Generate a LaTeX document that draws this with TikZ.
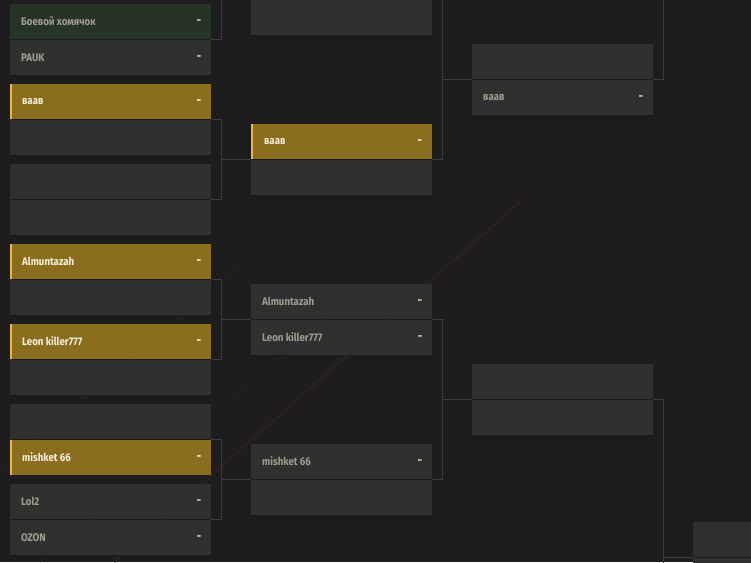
\documentclass[tikz,border=0pt]{standalone}
\usepackage{fontspec}
\setmainfont{Fira Sans}[FakeStretch=0.88]
\usetikzlibrary{calc}
\definecolor{bgc}{HTML}{1D1D1F}
\definecolor{boxc}{HTML}{30302E}
\definecolor{goldc}{HTML}{8B6D1F}
\definecolor{barc}{HTML}{F2B73A}
\definecolor{greenc}{HTML}{283327}
\definecolor{txtgray}{HTML}{9E9D90}
\definecolor{txtlight}{HTML}{F5EEDA}
\definecolor{scrgray}{HTML}{D0CFC2}
\definecolor{linec}{HTML}{3C3C3C}
\definecolor{streak}{HTML}{3A2020}
\tikzset{
  slot/.style={anchor=north west, minimum width=201pt, minimum height=35pt, inner sep=0pt, outer sep=0pt, fill=boxc},
  slotn/.style={slot, minimum width=181pt},
  goldslot/.style={fill=goldc},
  greenslot/.style={fill=greenc},
  lbl/.style={anchor=west, inner sep=0pt, text=txtgray, font=\bfseries\fontsize{11}{12}\selectfont},
  lbllight/.style={lbl, text=txtlight},
  scr/.style={anchor=center, inner sep=0pt, text=scrgray, font=\bfseries\fontsize{13}{14}\selectfont},
  scrlight/.style={scr, text=txtlight},
  conn/.style={draw=linec, line width=1pt},
  bar/.style={fill=barc}
}
\begin{document}
\begin{tikzpicture}[x=1pt,y=-1pt]
\fill[bgc] (0,0) rectangle (751,562);
\useasboundingbox (0,0) rectangle (751,562);
\clip (0,0) rectangle (751,562);
% faint diagonal streaks
\draw[streak, line width=2.5pt, opacity=0.5] (114,562) -- (522,200);
\draw[streak, line width=2pt, opacity=0.3] (0,470) -- (260,250);
\draw[streak, line width=2pt, opacity=0.25] (40,562) -- (360,290);
% ---------- column 1 ----------
\node[slot, greenslot] (a1) at (10,4) {};
\node[slot] (a2) at (10,40) {};
\node[slot, goldslot] (b1) at (10,84) {};
\node[slot] (b2) at (10,120) {};
\node[slot] (c1) at (10,164) {};
\node[slot] (c2) at (10,200) {};
\node[slot, goldslot] (d1) at (10,244) {};
\node[slot] (d2) at (10,280) {};
\node[slot, goldslot] (e1) at (10,324) {};
\node[slot] (e2) at (10,360) {};
\node[slot] (f1) at (10,404) {};
\node[slot, goldslot] (f2) at (10,440) {};
\node[slot] (g1) at (10,484) {};
\node[slot] (g2) at (10,520) {};
% ---------- column 2 ----------
\node[slotn] (p1) at (251,-36) {};
\node[slotn] (p2) at (251,0) {};
\node[slotn, goldslot] (q1) at (251,124) {};
\node[slotn] (q2) at (251,160) {};
\node[slotn] (r1) at (251,284) {};
\node[slotn] (r2) at (251,320) {};
\node[slotn] (s1) at (251,444) {};
\node[slotn] (s2) at (251,480) {};
% ---------- column 3 ----------
\node[slotn] (u1) at (472,44) {};
\node[slotn] (u2) at (472,80) {};
\node[slotn] (v1) at (472,364) {};
\node[slotn] (v2) at (472,400) {};
% ---------- column 4 ----------
\node[slotn] (w1) at (693,522) {};
\node[slotn] (w2) at (693,558) {};
% gold bars
\foreach \n in {b1,d1,e1,f2,q1}{
  \fill[bar] (\n.north west) rectangle ($(\n.south west)+(2,0)$);
}
% match centre coordinates
\foreach \m in {a,b,c,d,e,f,g,p,q,r,s,u,v,w}{
  \coordinate (\m W) at ($(\m1.south west)!0.5!(\m2.north west)$);
  \coordinate (\m E) at ($(\m1.south east)!0.5!(\m2.north east)$);
}
\coordinate (topA) at (221.5,-10);
\coordinate (topU) at (663.5,-10);
\coordinate (botV) at (663.5,572);
% ---------- connectors ----------
\draw[conn] (aE) -| (topA);
\draw[conn] (bE) -| (221.5,159.5) |- (cE);
\draw[conn] (221.5,159.5) -- (qW);
\draw[conn] (dE) -| (221.5,319.5) |- (eE);
\draw[conn] (221.5,319.5) -- (rW);
\draw[conn] (fE) -| (221.5,479.5) |- (gE);
\draw[conn] (221.5,479.5) -- (sW);
\draw[conn] (pE) -| (442.5,79.5) |- (qE);
\draw[conn] (442.5,79.5) -- (uW);
\draw[conn] (rE) -| (442.5,399.5) |- (sE);
\draw[conn] (442.5,399.5) -- (vW);
\draw[conn] (uE) -| (topU);
\draw[conn] (vE) -| (botV);
\draw[conn] (663.5,557.5) -- (wW);
% ---------- labels ----------
\node[lbl] (ta1) at ($(a1.west)+(11,0)$) {Боевой хомячок};
\node[scr] (sa1) at ($(a1.east)+(-12,1)$) {-};
\node[lbl] (ta2) at ($(a2.west)+(11,0)$) {PAUK};
\node[scr] (sa2) at ($(a2.east)+(-12,1)$) {-};
\node[lbllight] (tb1) at ($(b1.west)+(12,0)$) {ваав};
\node[scrlight] (sb1) at ($(b1.east)+(-12,1)$) {-};
\node[lbllight] (td1) at ($(d1.west)+(12,0)$) {Almuntazah};
\node[scrlight] (sd1) at ($(d1.east)+(-12,1)$) {-};
\node[lbllight] (te1) at ($(e1.west)+(12,0)$) {Leon killer777};
\node[scrlight] (se1) at ($(e1.east)+(-12,1)$) {-};
\node[lbllight] (tf2) at ($(f2.west)+(12,0)$) {mishket 66};
\node[scrlight] (sf2) at ($(f2.east)+(-12,1)$) {-};
\node[lbl] (tg1) at ($(g1.west)+(11,0)$) {Lol2};
\node[scr] (sg1) at ($(g1.east)+(-12,1)$) {-};
\node[lbl] (tg2) at ($(g2.west)+(11,0)$) {OZON};
\node[scr] (sg2) at ($(g2.east)+(-12,1)$) {-};
\node[lbllight] (tq1) at ($(q1.west)+(13,0)$) {ваав};
\node[scrlight] (sq1) at ($(q1.east)+(-12,1)$) {-};
\node[lbl] (tr1) at ($(r1.west)+(11,0)$) {Almuntazah};
\node[scr] (sr1) at ($(r1.east)+(-12,1)$) {-};
\node[lbl] (tr2) at ($(r2.west)+(11,0)$) {Leon killer777};
\node[scr] (sr2) at ($(r2.east)+(-12,1)$) {-};
\node[lbl] (ts1) at ($(s1.west)+(11,0)$) {mishket 66};
\node[scr] (ss1) at ($(s1.east)+(-12,1)$) {-};
\node[lbl] (tu2) at ($(u2.west)+(11,0)$) {ваав};
\node[scr] (su2) at ($(u2.east)+(-12,1)$) {-};
\end{tikzpicture}
\end{document}
